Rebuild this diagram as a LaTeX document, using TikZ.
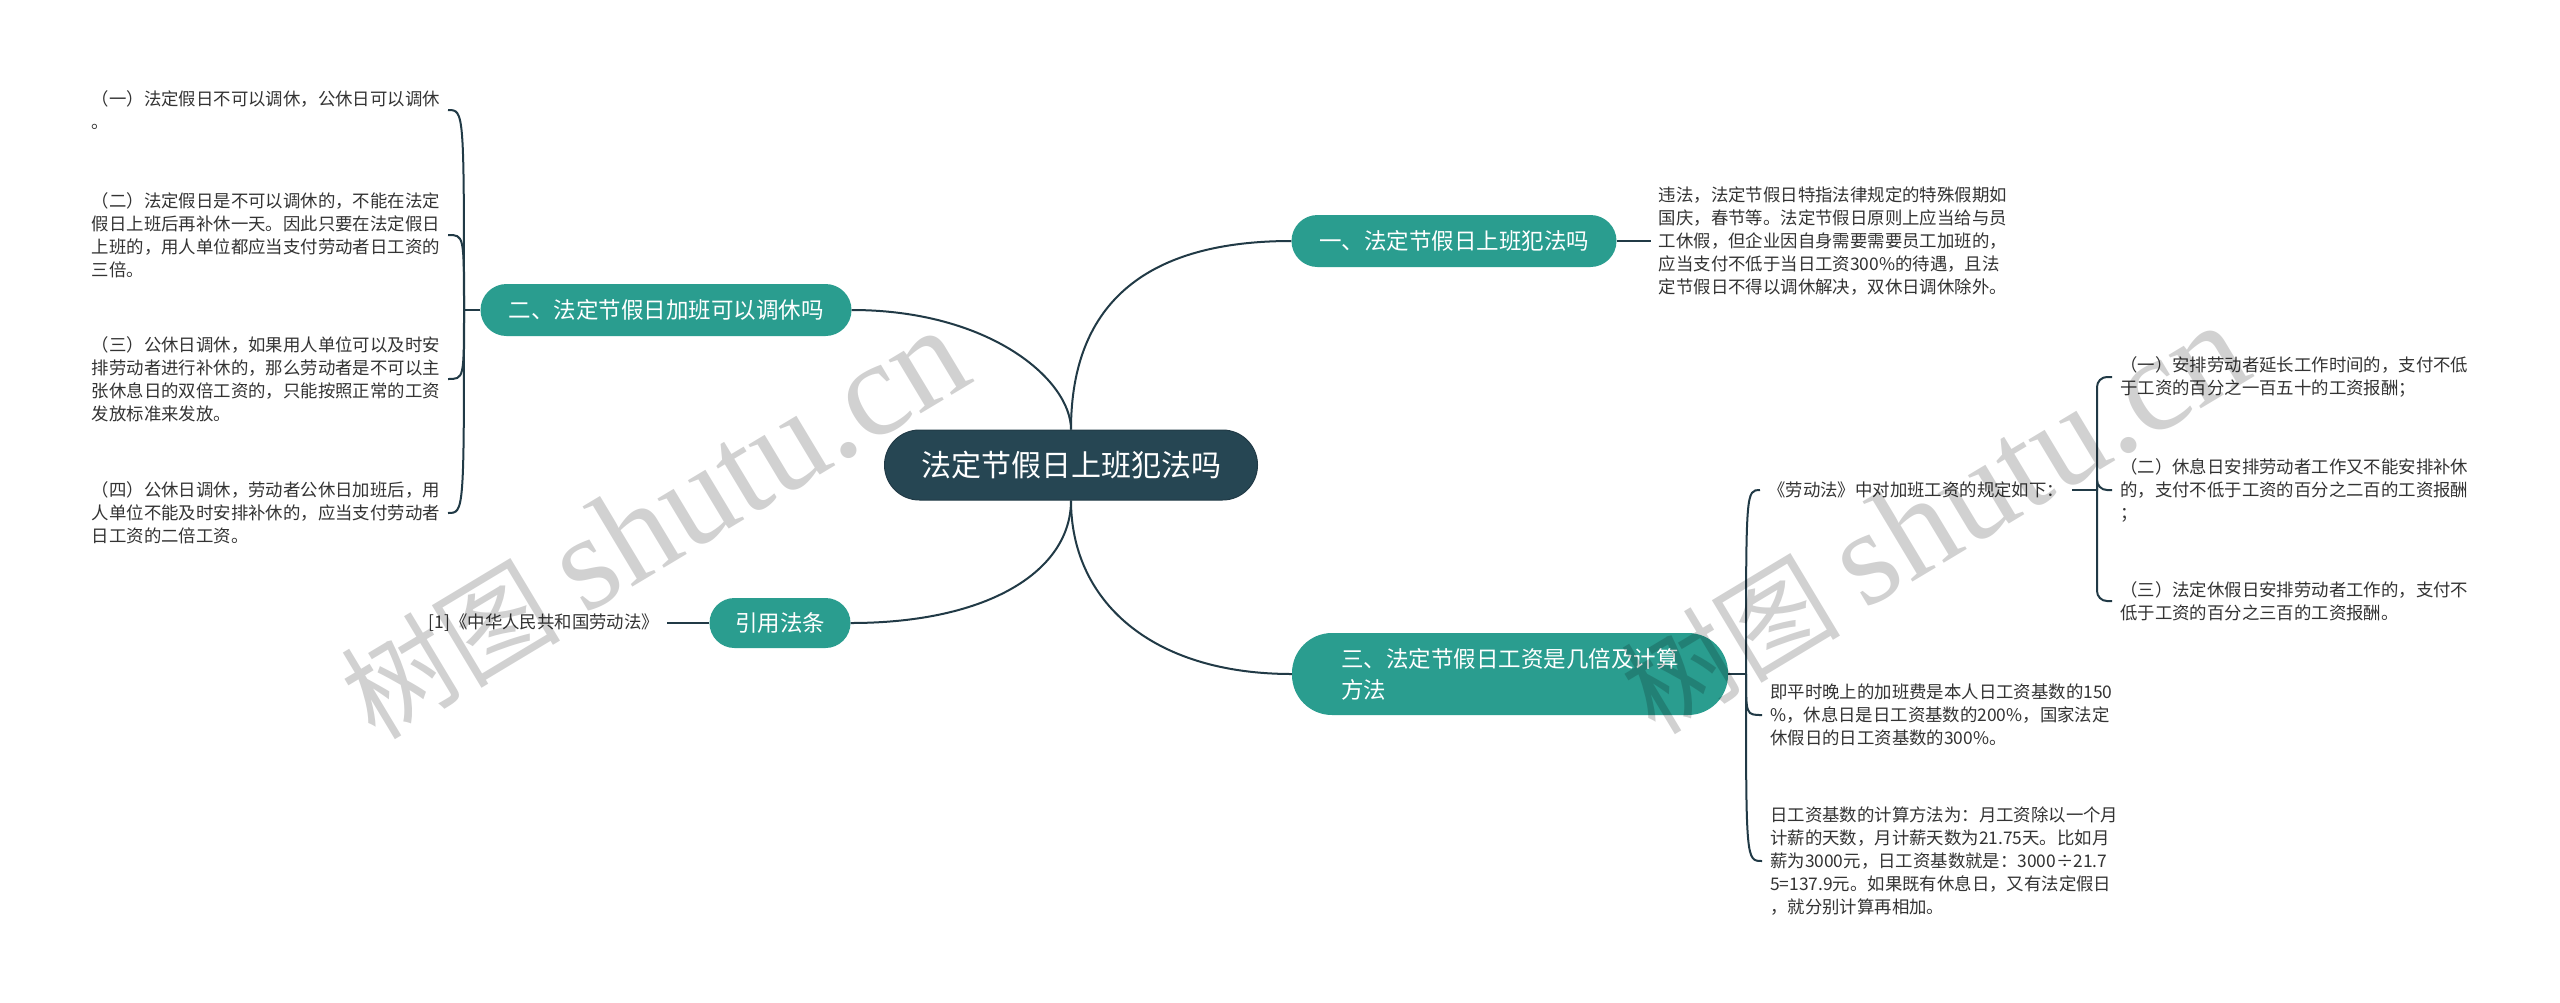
\documentclass[tikz,border=0pt]{standalone}
\usepackage{fontspec}
\setmainfont{Noto Sans CJK SC}
\newfontfamily\wmserif{Liberation Serif}
\usetikzlibrary{positioning}
\definecolor{rootfill}{RGB}{38,70,83}
\definecolor{topicfill}{RGB}{42,157,143}
\definecolor{linkc}{RGB}{33,58,70}
\definecolor{leaftext}{RGB}{51,51,51}

\begin{document}
\begin{tikzpicture}[x=1pt,y=1pt,
  root/.style={fill=rootfill,draw=linkc,line width=1pt,text=white,rounded corners=35pt,
    minimum width=373pt,minimum height=70pt,font=\fontsize{30}{34}\selectfont},
  topic/.style={fill=topicfill,text=white,rounded corners=26pt,minimum height=52pt,
    font=\fontsize{22.5}{31}\selectfont},
  leaf/.style={text=leaftext,align=left,inner xsep=8pt,inner ysep=0pt,
    font=\fontsize{17.4}{23}\selectfont},
  link/.style={draw=linkc,line width=2pt},
  wm/.style={text=black,text opacity=0.18,rotate=31,anchor=base west,inner sep=0pt}]
  \fill[white] (0,0) rectangle (2560,-1002);
  \useasboundingbox (0,0) rectangle (2560,-1002);

  \node[root] (root) at (1071,-465) {法定节假日上班犯法吗};
  \node[topic,minimum width=325pt] (q1) at (1454,-241) {一、法定节假日上班犯法吗};
  \node[topic,minimum width=371pt] (q2) at (666,-310) {二、法定节假日加班可以调休吗};
  \node[topic,minimum width=436pt,minimum height=82pt,rounded corners=40pt,align=left] (q3) at (1510,-674)
    {三、法定节假日工资是几倍及计算\\方法};
  \node[topic,minimum width=141pt,minimum height=50pt,rounded corners=25pt] (cite) at (780,-623) {引用法条};

  \draw[link] (root.north) .. controls (1071,-300) and (1150,-241) .. (q1.west);
  \draw[link] (root.north) .. controls (1071,-380) and (990,-310) .. (q2.east);
  \draw[link] (root.south) .. controls (1071,-600) and (1150,-674) .. (q3.west);
  \draw[link] (root.south) .. controls (1071,-570) and (990,-623) .. (cite.east);

  \node[leaf,right=34pt of q1] (a1) {违法，法定节假日特指法律规定的特殊假期如\\国庆，春节等。法定节假日原则上应当给与员\\工休假，但企业因自身需要需要员工加班的，\\应当支付不低于当日工资300\%的待遇，且法\\定节假日不得以调休解决，双休日调休除外。};
  \draw[link] (q1.east) -- (a1.west);

  \node[leaf,anchor=east] (l1) at (448,-110) {（一）法定假日不可以调休，公休日可以调休\\。};
  \node[leaf,anchor=east] (l2) at (448,-235) {（二）法定假日是不可以调休的，不能在法定\\假日上班后再补休一天。因此只要在法定假日\\上班的，用人单位都应当支付劳动者日工资的\\三倍。};
  \node[leaf,anchor=east] (l3) at (448,-379) {（三）公休日调休，如果用人单位可以及时安\\排劳动者进行补休的，那么劳动者是不可以主\\张休息日的双倍工资的，只能按照正常的工资\\发放标准来发放。};
  \node[leaf,anchor=east] (l4) at (448,-513) {（四）公休日调休，劳动者公休日加班后，用\\人单位不能及时安排补休的，应当支付劳动者\\日工资的二倍工资。};
  \coordinate (j2) at (464,-310);
  \draw[link] (q2.west) -- (j2);
  \foreach \n in {l1,l2,l3,l4}
    \draw[link] (j2) .. controls (j2|-\n.east) .. (\n.east);

  \node[leaf,left=42pt of cite] (r1) {[1]《中华人民共和国劳动法》};
  \draw[link] (cite.west) -- (r1.east);

  \node[leaf,anchor=west] (m1) at (1760,-490) {《劳动法》中对加班工资的规定如下：};
  \node[leaf,anchor=west] (m2) at (1762,-715) {即平时晚上的加班费是本人日工资基数的150\\\%，休息日是日工资基数的200\%，国家法定\\休假日的日工资基数的300\%。};
  \node[leaf,anchor=west] (m3) at (1762,-861) {日工资基数的计算方法为：月工资除以一个月\\计薪的天数，月计薪天数为21.75天。比如月\\薪为3000元，日工资基数就是：3000÷21.7\\5=137.9元。如果既有休息日，又有法定假日\\，就分别计算再相加。};
  \coordinate (j3) at (1746,-674);
  \draw[link] (q3.east) -- (j3);
  \foreach \n in {m1,m2,m3}
    \draw[link] (j3) .. controls (j3|-\n.west) .. (\n.west);

  \node[leaf,anchor=west] (s1) at (2112,-377) {（一）安排劳动者延长工作时间的，支付不低\\于工资的百分之一百五十的工资报酬；};
  \node[leaf,anchor=west] (s2) at (2112,-490) {（二）休息日安排劳动者工作又不能安排补休\\的，支付不低于工资的百分之二百的工资报酬\\；};
  \node[leaf,anchor=west] (s3) at (2112,-601) {（三）法定休假日安排劳动者工作的，支付不\\低于工资的百分之三百的工资报酬。};
  \coordinate (j4) at (2097,-490);
  \draw[link] (m1.east) -- (j4);
  \foreach \n in {s1,s2,s3}
    \draw[link,rounded corners=10pt] (j4) |- (\n.west);

  \node[wm] (wm1) at (375,-742) {\fontsize{110}{110}\selectfont 树图 {\wmserif\fontsize{136}{136}\selectfont shutu.cn}};
  \node[wm] (wm2) at (1655,-737) {\fontsize{110}{110}\selectfont 树图 {\wmserif\fontsize{136}{136}\selectfont shutu.cn}};
\end{tikzpicture}
\end{document}
